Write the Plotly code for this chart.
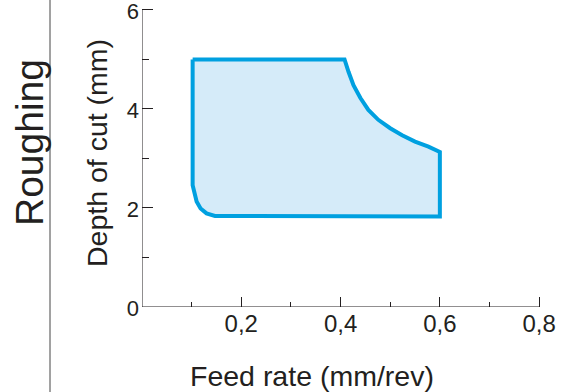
import plotly.graph_objects as go

# Boundary of the roughing application area
feed_rate = [0.102, 0.408, 0.416, 0.426, 0.440, 0.456, 0.476, 0.500, 0.524,
             0.550, 0.577, 0.600, 0.600, 0.171, 0.147, 0.130, 0.118, 0.110,
             0.105, 0.102, 0.102]
depth_of_cut = [5.00, 5.00, 4.75, 4.48, 4.22, 3.98, 3.78, 3.61, 3.47,
                3.34, 3.24, 3.13, 1.83, 1.83, 1.84, 1.89, 1.99, 2.13,
                2.30, 2.46, 5.00]

x_max, y_max = 0.8, 6
x_tick_vals = [0.2, 0.4, 0.6, 0.8]
x_tick_text = ["0,2", "0,4", "0,6", "0,8"]
x_minor_vals = [0.1, 0.3, 0.5, 0.7]
y_tick_vals = [0, 2, 4, 6]
y_tick_text = ["0", "2", "4", "6"]
y_minor_vals = [1, 3, 5]

FONT = "Liberation Sans, Arial, sans-serif"
TXT = "#231f20"
LINE = "#00a0e0"
FILL = "#d5ebf9"

L, R, T, B = 142, 4, 0, 85
W, H = 563, 392
PW, PH = W - L - R, H - T - B


def px(xp):
    return (xp - L) / PW


def py(yp):
    return (H - B - yp) / PH


fig = go.Figure()
fig.add_trace(go.Scatter(
    x=feed_rate, y=depth_of_cut, mode="lines", fill="toself",
    fillcolor=FILL, line=dict(color=LINE, width=4), hoverinfo="skip",
    showlegend=False,
))

fig.update_layout(
    width=W, height=H,
    margin=dict(l=L, r=R, t=T, b=B, autoexpand=False),
    paper_bgcolor="white", plot_bgcolor="white",
    font=dict(family=FONT, color=TXT),
    xaxis=dict(
        range=[0, 0.84], showgrid=False, zeroline=False, showline=False,
        tickvals=x_tick_vals, ticktext=x_tick_text,
        ticks="inside", ticklen=10, tickcolor=TXT, tickwidth=1,
        tickfont=dict(size=24, color=TXT, family=FONT),
        ticklabelstandoff=0, automargin=False, ticklabeloverflow="allow",
        minor=dict(tickvals=x_minor_vals, ticks="inside",
                   ticklen=5, tickcolor=TXT, tickwidth=1),
    ),
    yaxis=dict(
        range=[0, 6.2], showgrid=False, zeroline=False, showline=False,
        tickvals=y_tick_vals, ticktext=y_tick_text,
        ticks="inside", ticklen=11, tickcolor=TXT, tickwidth=1,
        tickfont=dict(size=22, color=TXT, family=FONT),
        ticklabelstandoff=2, ticklabelshift=1,
        automargin=False, ticklabeloverflow="allow",
        minor=dict(tickvals=y_minor_vals, ticks="inside",
                   ticklen=7, tickcolor=TXT, tickwidth=1),
    ),
)

# Axis lines, ending at the last tick
fig.add_shape(type="line", xref="x", yref="y", x0=0, x1=x_max, y0=0, y1=0,
              line=dict(color=TXT, width=1))
fig.add_shape(type="line", xref="x", yref="y", x0=0, x1=0, y0=0, y1=y_max,
              line=dict(color=TXT, width=1))

# Axis titles
fig.add_annotation(text="Feed rate (mm/rev)", xref="paper", yref="paper",
                   x=px(312), y=py(376),
                   xanchor="center", yanchor="middle", showarrow=False,
                   font=dict(size=28.5, color=TXT, family=FONT))
fig.add_annotation(text="Depth of cut (mm)", xref="paper", yref="paper",
                   x=px(97), y=py(153), textangle=-90,
                   xanchor="center", yanchor="middle", showarrow=False,
                   font=dict(size=28.5, color=TXT, family=FONT))
# Row label
fig.add_annotation(text="Roughing", xref="paper", yref="paper",
                   x=px(29), y=py(143), textangle=-90,
                   xanchor="center", yanchor="middle", showarrow=False,
                   font=dict(size=39, color=TXT, family=FONT))
fig.add_shape(type="line", xref="paper", yref="paper",
              x0=px(50), x1=px(50), y0=py(-5), y1=py(400),
              line=dict(color="#444444", width=1))

fig.write_html("out.html", config={"displayModeBar": False},
               post_script="document.body.style.margin='0';"
                           "document.body.style.padding='0';")
